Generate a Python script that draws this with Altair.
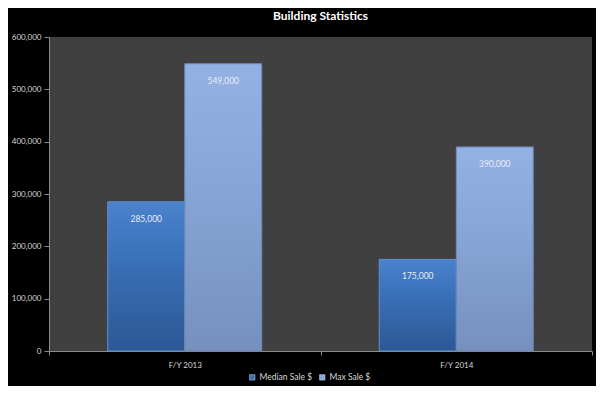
import altair as alt
import pandas as pd

years = ["F/Y 2013", "F/Y 2014"]
series = ["Median Sale $", "Max Sale $"]
median_vals = [285000, 175000]
max_vals = [549000, 390000]
y_ticks = [0, 100000, 200000, 300000, 400000, 500000, 600000]

rows = []
for i, y in enumerate(years):
    rows.append({"year": y, "series": series[0], "value": median_vals[i]})
    rows.append({"year": y, "series": series[1], "value": max_vals[i]})
df = pd.DataFrame(rows)

FONT = "Lato"
LABEL_COLOR = "#D8D8D8"

x_enc = alt.X("year:N", sort=years,
              scale=alt.Scale(paddingInner=0, paddingOuter=0),
              axis=alt.Axis(title=None, labelAngle=0, labelColor=LABEL_COLOR,
                            labelFont=FONT, labelFontSize=8, labelPadding=6,
                            domainColor="#8A8A8A", tickColor="#8A8A8A",
                            tickBand="extent", tickSize=4))
xo_enc = alt.XOffset("series:N", sort=series,
                     scale=alt.Scale(domain=series, paddingInner=0, paddingOuter=0.763))
y_enc = alt.Y("value:Q",
              scale=alt.Scale(domain=[0, 600000], nice=False),
              axis=alt.Axis(title=None, values=y_ticks, format=",d", grid=False,
                            labelColor=LABEL_COLOR, labelFont=FONT, labelFontSize=8,
                            labelPadding=3, domainColor="#8A8A8A", tickColor="#8A8A8A",
                            tickSize=5))

base = alt.Chart(df)

legend_layer = base.mark_bar().encode(
    x=x_enc, xOffset=xo_enc, y=y_enc,
    color=alt.Color("series:N", sort=series,
                    scale=alt.Scale(domain=series, range=["#3A6FB5", "#8AA8DA"]),
                    legend=alt.Legend(title=None, orient="none", direction="horizontal",
                                      legendX=199, legendY=336,
                                      symbolType="square", symbolSize=30,
                                      symbolStrokeColor="#C8D4EA", symbolStrokeWidth=0.5,
                                      labelColor=LABEL_COLOR, labelFont=FONT,
                                      labelFontSize=8.5, columnPadding=5,
                                      symbolOffset=0, labelOffset=3)),
)

grad_median = alt.Gradient(
    gradient="linear", x1=0, x2=0, y1=0, y2=1,
    stops=[alt.GradientStop(color="#4A82CC", offset=0),
           alt.GradientStop(color="#3A70B8", offset=0.4),
           alt.GradientStop(color="#2C5894", offset=1)])
grad_max = alt.Gradient(
    gradient="linear", x1=0, x2=0, y1=0, y2=1,
    stops=[alt.GradientStop(color="#93B1E3", offset=0),
           alt.GradientStop(color="#88A6D8", offset=0.4),
           alt.GradientStop(color="#7690BE", offset=1)])

med_layer = base.transform_filter(alt.datum.series == series[0]).mark_bar(
    fill=grad_median, stroke="#5E8FD0", strokeWidth=1).encode(
    x=x_enc, xOffset=xo_enc, y=y_enc)
max_layer = base.transform_filter(alt.datum.series == series[1]).mark_bar(
    fill=grad_max, stroke="#6B83AE", strokeWidth=1).encode(
    x=x_enc, xOffset=xo_enc, y=y_enc)

labels = base.mark_text(baseline="top", dy=13, color="#E8ECF4", font=FONT,
                        fontSize=8.5).encode(
    x=x_enc, xOffset=xo_enc, y=y_enc,
    text=alt.Text("value:Q", format=",d"))

chart = alt.layer(legend_layer, med_layer, max_layer, labels).properties(
    width=543, height=314,
    background="#000000",
    autosize=alt.AutoSizeParams(type="none"),
    padding={"left": 41, "top": 29, "right": 4, "bottom": 35},
    title=alt.Title("Building Statistics", color="#FFFFFF", font=FONT,
                    fontSize=12, fontWeight="bold", anchor="middle", offset=10),
).configure_view(fill="#404040", stroke=None)

chart.save("out.html", embed_options={"renderer": "svg", "actions": False})
